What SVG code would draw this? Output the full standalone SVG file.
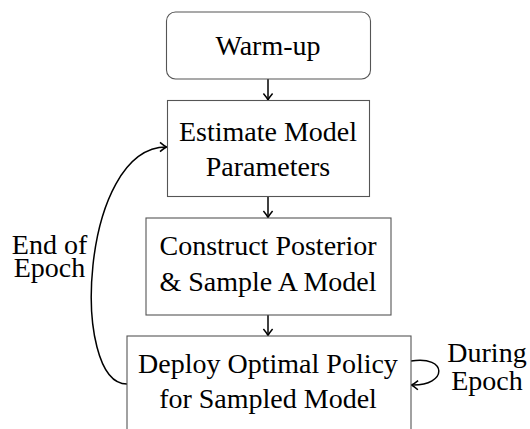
<svg xmlns="http://www.w3.org/2000/svg" width="530" height="429" viewBox="0 0 530 429">
<style>
.box{fill:#fff;stroke:#555;stroke-width:1.1}
.t{font-family:"Liberation Serif","Times New Roman",serif;font-size:28px;fill:#000;text-anchor:middle}
.c{fill:none;stroke:#000;stroke-width:1.5}
</style>
<defs>
<marker id="ah" markerUnits="userSpaceOnUse" markerWidth="16" markerHeight="16" viewBox="-9 -8 11 16" refX="0" refY="0" orient="auto">
<path d="M-6.5,-4.6 Q-2.5,-1.2 0,0 Q-2.5,1.2 -6.5,4.6" fill="none" stroke="#000" stroke-width="1.5"/>
</marker>
</defs>
<rect width="530" height="429" fill="#fff"/>
<g id="connectors">
<path class="c" d="M268,79 L268,100" marker-end="url(#ah)"/>
<path class="c" d="M268,196 L268,217.5" marker-end="url(#ah)"/>
<path class="c" d="M268,315 L268,335.5" marker-end="url(#ah)"/>
<path class="c" d="M127,384 C70,384 80,147 166.5,147" marker-end="url(#ah)"/>
<path class="c" d="M411,361 C448,355 448,386 411.5,385" marker-end="url(#ah)"/>
</g>
<g id="warmup">
<rect class="box" x="166.5" y="12" width="204" height="67" rx="9"/>
<text class="t" x="268" y="54.5">Warm-up</text>
</g>
<g id="estimate">
<rect class="box" x="167.5" y="100.5" width="202" height="96"/>
<text class="t" x="268" y="141">Estimate Model</text>
<text class="t" x="268" y="176">Parameters</text>
</g>
<g id="construct">
<rect class="box" x="146" y="218" width="245" height="97"/>
<text class="t" x="268" y="255">Construct Posterior</text>
<text class="t" x="268" y="291">&amp; Sample A Model</text>
</g>
<g id="deploy">
<rect class="box" x="127" y="336" width="284" height="100"/>
<text class="t" x="268" y="373">Deploy Optimal Policy</text>
<text class="t" x="268" y="408">for Sampled Model</text>
</g>
<g id="label-end">
<text class="t" x="49.5" y="254">End of</text>
<text class="t" x="49.5" y="277">Epoch</text>
</g>
<g id="label-during">
<text class="t" x="487" y="361.5">During</text>
<text class="t" x="487" y="389.5">Epoch</text>
</g>
</svg>
